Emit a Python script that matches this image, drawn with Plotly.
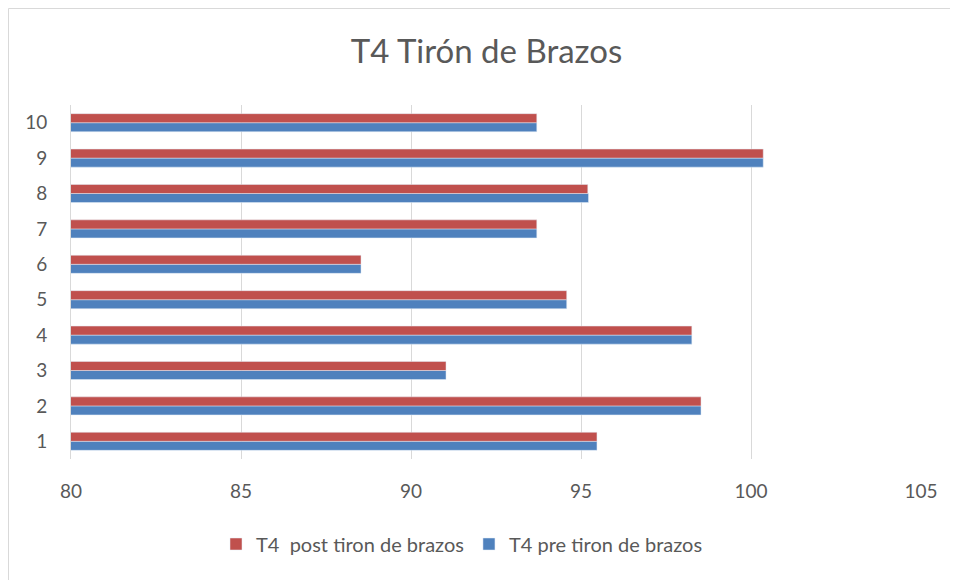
import plotly.graph_objects as go

categories = ["1", "2", "3", "4", "5", "6", "7", "8", "9", "10"]
pre_values = [95.47, 98.53, 91.03, 98.26, 94.58, 88.53, 93.70, 95.22, 100.36, 93.70]
post_values = [95.47, 98.53, 91.03, 98.26, 94.58, 88.53, 93.70, 95.20, 100.36, 93.70]
x_ticks = [80, 85, 90, 95, 100, 105]

TEXT = "#595959"
FONT = "Lato"

W, H = 950, 572
L, R, T, B = 63, 37, 97, 121
PW, PH = W - L - R, H - T - B

fig = go.Figure()
fig.add_trace(go.Bar(
    y=categories, x=pre_values, orientation="h",
    name="T4 pre tiron de brazos", marker=dict(color="#4F81BD"),
))
fig.add_trace(go.Bar(
    y=categories, x=post_values, orientation="h",
    name="T4  post tiron de brazos", marker=dict(color="#C0504D"),
))

fig.update_layout(
    width=W, height=H,
    paper_bgcolor="white", plot_bgcolor="white",
    margin=dict(l=L, r=R, t=T, b=B, autoexpand=False),
    barmode="group", bargap=0.49, bargroupgap=0,
    font=dict(family=FONT, color=TEXT, size=19),
    title=dict(text="T4 Tirón de Brazos", x=(486.5 - 71) / PW, xref="paper", xanchor="center",
               y=1 - 43 / H, yanchor="middle", font=dict(size=33, color=TEXT, family=FONT)),
    legend=dict(orientation="h", x=(462 - 71) / PW, xanchor="center", y=-85 / PH, yanchor="middle",
                traceorder="reversed", itemwidth=30, font=dict(size=20, color=TEXT)),
    showlegend=True,
)
fig.update_xaxes(
    range=[80, 105], tickvals=x_ticks, showgrid=True, gridcolor="#D9D9D9", gridwidth=1,
    zeroline=False, showline=False, ticks="", ticklabelstandoff=19,
    tickfont=dict(size=19, color=TEXT),
)
fig.update_yaxes(
    categoryorder="array", categoryarray=categories, showgrid=False,
    showline=True, linecolor="#D9D9D9", linewidth=1, ticks="",
    ticklabelstandoff=19, tickfont=dict(size=19, color=TEXT),
)
# chart-area border (only top and left edges are visible in the frame)
x_left = (0.5 - L) / PW
y_top = (PH + T - 0.5) / PH
fig.add_shape(type="line", xref="paper", yref="paper",
              x0=x_left, x1=(W + 50 - L) / PW, y0=y_top, y1=y_top,
              line=dict(color="#D9D9D9", width=1), layer="below")
fig.add_shape(type="line", xref="paper", yref="paper",
              x0=x_left, x1=x_left, y0=-(B + 50) / PH, y1=y_top,
              line=dict(color="#D9D9D9", width=1), layer="below")

fig.write_html("out.html")
